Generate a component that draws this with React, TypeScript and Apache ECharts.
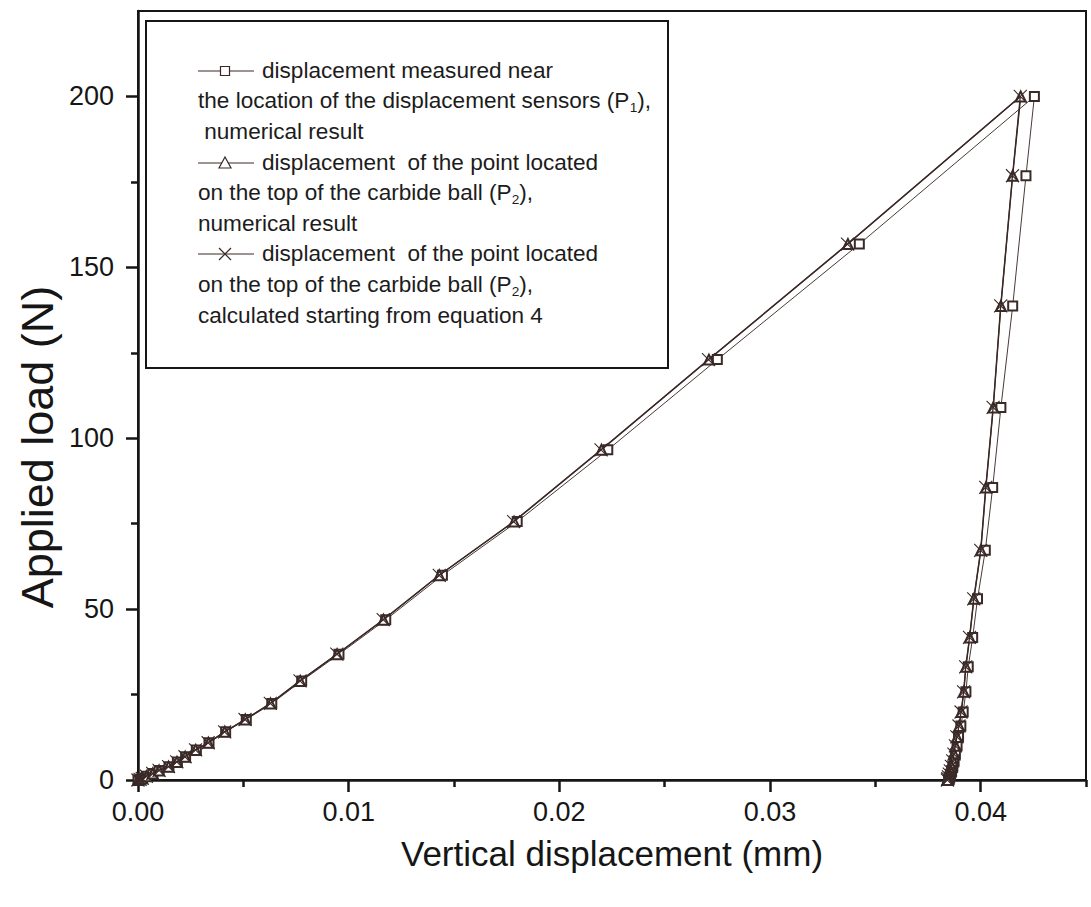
import React, { useEffect, useRef } from "react";
import * as echarts from "echarts";

// ---- data ----
const loadForce = [0, 0.2, 0.5, 1.1, 1.9, 2.8, 3.9, 5.3, 6.8, 8.8, 10.9, 14.1, 17.7, 22.4, 29.0, 36.8, 46.9, 59.9, 75.6, 96.6, 123.0, 156.8, 200];
const p1LoadDisp = [0, 0.0001, 0.0002, 0.0004, 0.0007, 0.001, 0.00147, 0.00187, 0.00226, 0.00277, 0.00337, 0.00416, 0.00514, 0.00635, 0.00777, 0.00954, 0.01176, 0.01445, 0.018, 0.0223, 0.0275, 0.03424, 0.04255];
const p2LoadDisp = [0, 0.0001, 0.0002, 0.0004, 0.0007, 0.001, 0.00145, 0.00185, 0.00224, 0.00274, 0.00334, 0.00412, 0.00509, 0.00629, 0.0077, 0.00945, 0.01165, 0.0143, 0.01785, 0.022, 0.0271, 0.0337, 0.0419];
const p3LoadDisp = [0, 0.0001, 0.0002, 0.0004, 0.0007, 0.001, 0.00145, 0.00184, 0.00223, 0.00273, 0.00333, 0.00411, 0.00508, 0.00628, 0.00769, 0.00944, 0.01164, 0.0143, 0.01783, 0.02198, 0.02708, 0.03368, 0.04188];

const unloadForce = [200, 176.8, 138.7, 109.0, 85.6, 67.2, 53.0, 41.7, 33.1, 25.8, 19.9, 15.8, 12.6, 10.0, 7.6, 5.6, 4.0, 2.7, 1.7, 0.9, 0.4, 0];
const p1UnloadDisp = [0.04255, 0.04215, 0.04152, 0.04096, 0.04057, 0.04022, 0.03985, 0.03962, 0.03941, 0.0393, 0.03917, 0.03906, 0.03895, 0.03888, 0.0388, 0.03874, 0.03868, 0.03862, 0.03857, 0.03853, 0.0385, 0.03848];
const p2UnloadDisp = [0.04188, 0.04152, 0.04096, 0.0406, 0.04025, 0.04001, 0.03968, 0.03948, 0.0393, 0.0392, 0.03908, 0.03898, 0.03888, 0.03881, 0.03874, 0.03868, 0.03862, 0.03857, 0.03852, 0.03848, 0.03845, 0.03843];
const p3UnloadDisp = [0.04188, 0.04151, 0.04095, 0.04059, 0.04024, 0.04, 0.03967, 0.03947, 0.03929, 0.03919, 0.03907, 0.03897, 0.03887, 0.0388, 0.03873, 0.03867, 0.03861, 0.03856, 0.03851, 0.03847, 0.03844, 0.03842];

const xMajorTicks = [0, 0.01, 0.02, 0.03, 0.04];
const xMinorTicks = [0.005, 0.015, 0.025, 0.035, 0.045];
const yMajorTicks = [0, 50, 100, 150, 200];
const yMinorTicks = [25, 75, 125, 175];

const xTitle = "Vertical displacement (mm)";
const yTitle = "Applied load (N)";

const seriesNames = [
  "displacement measured near the location of the displacement sensors (P1), numerical result",
  "displacement of the point located on the top of the carbide ball (P2), numerical result",
  "displacement of the point located on the top of the carbide ball (P2), calculated starting from equation 4",
];

const legendLines: [number, number, string][] = [
  [262, 71, "displacement measured near"],
  [198, 101, "the location of the displacement sensors (P{sub|1}),"],
  [198, 132, " numerical result"],
  [262, 163, "displacement  of the point located"],
  [198, 193, "on the top of the carbide ball (P{sub|2}),"],
  [198, 224, "numerical result"],
  [262, 254, "displacement  of the point located"],
  [198, 285, "on the top of the carbide ball (P{sub|2}),"],
  [198, 316, "calculated starting from equation 4"],
];

const FONT = "'Liberation Sans', Arial, sans-serif";
const INK = "#161616";
const LINE = "#3a2826";
const CROSS = "path://M0,0L10,10M0,10L10,0";

function pairs(xs: number[], ys: number[]) {
  return xs.map((x, i) => [x, ys[i]]);
}

export default function App() {
  const ref = useRef<HTMLDivElement>(null);
  useEffect(() => {
    if (!ref.current) return;
    const chart = echarts.init(ref.current, null, { renderer: "svg" });

    const legendRows = [71, 163, 254];
    const legendSymbols = ["rect", "triangle", "cross"];
    const textStyle = (text: string) => ({
      text,
      fontFamily: FONT,
      fontSize: 21.5,
      lineHeight: 26,
      fill: "#1c1c1c",
      verticalAlign: "middle",
      rich: {
        sub: { fontSize: 13, lineHeight: 16, verticalAlign: "bottom", fontFamily: FONT, fill: "#1c1c1c" },
      },
    });

    const graphics: any[] = [
      {
        type: "rect",
        shape: { x: 146, y: 21, width: 522, height: 347 },
        style: { fill: "#fff", stroke: INK, lineWidth: 2 },
        z: 10,
      },
      {
        type: "text",
        x: 37,
        y: 447,
        rotation: Math.PI / 2,
        style: {
          text: yTitle,
          fontFamily: FONT,
          fontSize: 45,
          fill: INK,
          align: "center",
          verticalAlign: "middle",
        },
        z: 12,
      },
    ];
    legendRows.forEach((y, i) => {
      graphics.push({
        type: "line",
        shape: { x1: 198, y1: y, x2: 254, y2: y },
        style: { stroke: LINE, lineWidth: 1.2 },
        z: 11,
      });
      const s = legendSymbols[i];
      if (s === "rect") {
        graphics.push({
          type: "rect",
          shape: { x: 225 - 4.5, y: y - 4.5, width: 9, height: 9 },
          style: { fill: "#fff", stroke: LINE, lineWidth: 1.2 },
          z: 12,
        });
      } else if (s === "triangle") {
        graphics.push({
          type: "polygon",
          shape: { points: [[225, y - 6], [219, y + 5], [231, y + 5]] },
          style: { fill: "#fff", stroke: LINE, lineWidth: 1.2 },
          z: 12,
        });
      } else {
        graphics.push({
          type: "line",
          shape: { x1: 219, y1: y - 6, x2: 231, y2: y + 6 },
          style: { stroke: LINE, lineWidth: 1.2 },
          z: 12,
        });
        graphics.push({
          type: "line",
          shape: { x1: 219, y1: y + 6, x2: 231, y2: y - 6 },
          style: { stroke: LINE, lineWidth: 1.2 },
          z: 12,
        });
      }
    });
    legendLines.forEach(([x, y, t]) => {
      graphics.push({ type: "text", x, y, scaleX: 1.05, style: textStyle(t), z: 12 });
    });

    const commonX = { type: "value", min: 0, max: 0.045, gridIndex: 0 };
    const commonY = { type: "value", min: 0, max: 225, gridIndex: 0 };

    chart.setOption({
      animation: false,
      backgroundColor: "#fff",
      grid: {
        left: 138,
        right: 5,
        top: 11,
        bottom: 127,
        containLabel: false,
        outerBoundsMode: "none",
        show: true,
        borderColor: INK,
        borderWidth: 2,
        backgroundColor: "transparent",
      },
      xAxis: [
        {
          ...commonX,
          position: "bottom",
          name: xTitle,
          nameLocation: "middle",
          nameGap: 56,
          nameTextStyle: { fontFamily: FONT, fontSize: 35, color: INK },
          axisLine: { show: true, lineStyle: { color: INK, width: 2.5 } },
          axisTick: { show: true, length: 12, customValues: xMajorTicks, lineStyle: { color: INK, width: 2.5 } },
          axisLabel: {
            show: true,
            customValues: xMajorTicks,
            margin: 18,
            fontFamily: FONT,
            fontSize: 27,
            color: INK,
            formatter: (v: number) => v.toFixed(2),
          },
          splitLine: { show: false },
        },
        {
          ...commonX,
          position: "bottom",
          axisLine: { show: false },
          axisTick: { show: true, length: 7, customValues: xMinorTicks, lineStyle: { color: INK, width: 2.5 } },
          axisLabel: { show: false },
          splitLine: { show: false },
        },
      ],
      yAxis: [
        {
          ...commonY,
          position: "left",
          axisLine: { show: true, lineStyle: { color: INK, width: 2.5 } },
          axisTick: { show: true, length: 12, customValues: yMajorTicks, lineStyle: { color: INK, width: 2.5 } },
          axisLabel: {
            show: true,
            customValues: yMajorTicks,
            margin: 24,
            fontFamily: FONT,
            fontSize: 27,
            color: INK,
            formatter: (v: number) => String(Math.round(v)),
          },
          splitLine: { show: false },
        },
        {
          ...commonY,
          position: "left",
          axisLine: { show: false },
          axisTick: { show: true, length: 7, customValues: yMinorTicks, lineStyle: { color: INK, width: 2.5 } },
          axisLabel: { show: false },
          splitLine: { show: false },
        },
      ],
      series: [
        {
          name: seriesNames[0],
          type: "line",
          xAxisIndex: 0,
          yAxisIndex: 0,
          data: [...pairs(p1LoadDisp, loadForce), ...pairs(p1UnloadDisp, unloadForce).slice(1)],
          symbol: "emptyRect",
          symbolSize: 9,
          lineStyle: { color: "#4a3a38", width: 1 },
          itemStyle: { color: "#3a2a28", borderWidth: 1.1 },
          z: 3,
        },
        {
          name: seriesNames[1],
          type: "line",
          xAxisIndex: 0,
          yAxisIndex: 0,
          data: [...pairs(p2LoadDisp, loadForce), ...pairs(p2UnloadDisp, unloadForce).slice(1)],
          symbol: "emptyTriangle",
          symbolSize: 10,
          lineStyle: { color: LINE, width: 1.3 },
          itemStyle: { color: "#3a2a28", borderWidth: 1.1 },
          z: 4,
        },
        {
          name: seriesNames[2],
          type: "line",
          xAxisIndex: 0,
          yAxisIndex: 0,
          data: [...pairs(p3LoadDisp, loadForce), ...pairs(p3UnloadDisp, unloadForce).slice(1)],
          symbol: CROSS,
          symbolSize: 13,
          lineStyle: { color: LINE, width: 1.3 },
          itemStyle: { color: "transparent", borderColor: "#3a2a28", borderWidth: 1.1 },
          z: 5,
        },
      ],
      graphic: graphics,
    });

    return () => chart.dispose();
  }, []);

  return (
    <div
      ref={ref}
      style={{ position: "absolute", left: 0, top: 0, width: 1091, height: 907, background: "#fff" }}
    />
  );
}
